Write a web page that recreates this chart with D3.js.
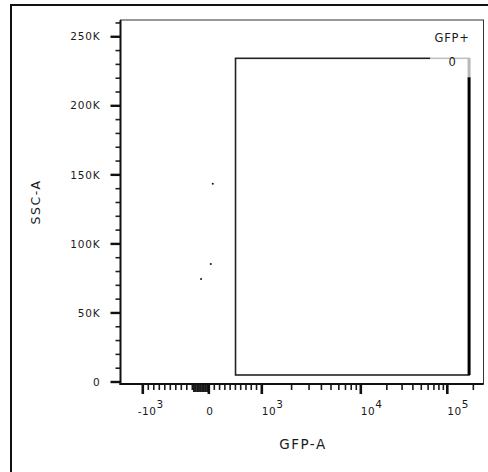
<!DOCTYPE html>
<html>
<head>
<meta charset="utf-8">
<script src="https://cdn.jsdelivr.net/npm/d3@7"></script>
<style>
  html, body { margin: 0; padding: 0; background: #fff; }
  svg { display: block; }
  text { font-family: "DejaVu Sans", sans-serif; fill: #1a1a1a; }
</style>
</head>
<body>
<div id="chart"></div>
<script>
// ---- data ----
const gfpValues = [73, 36, -47];              // GFP-A of the recorded events
const sscValues = [143500, 85500, 74600];     // SSC-A of the recorded events
const gateName = "GFP+";
const gateCount = 0;
const gateGfp = [502, 178600];                // gate GFP-A bounds
const gateSsc = [5070, 234400];               // gate SSC-A bounds

const yMajorTicks = [0, 50000, 100000, 150000, 200000, 250000];
const yTickLabels = ["0", "50K", "100K", "150K", "200K", "250K"];
const xMajorTicks = [-1000, 0, 1000, 10000, 100000];
const xTickLabels = [["-10", "3"], ["0", ""], ["10", "3"], ["10", "4"], ["10", "5"]];

const W = 488, H = 472;
const plot = { left: 120.5, top: 20, right: 483.5, bottom: 384 };

const svg = d3.select("#chart").append("svg").attr("width", W).attr("height", H);

// outer frame
svg.append("rect").attr("x", 11).attr("y", 5).attr("width", 490).attr("height", 480)
  .attr("fill", "none").attr("stroke", "#111").attr("stroke-width", 2);

// ---- scales ----
const y = d3.scaleLinear().domain([-1450, 262144]).range([plot.bottom, plot.top]);

// biexponential display: linear within ±1000, one unit per decade beyond
const biex = v => Math.abs(v) <= 1000 ? v / 1000 : Math.sign(v) * (1 + Math.log10(Math.abs(v) / 1000));
const xWidth = plot.right - plot.left;
const xSegments = [-1.405, -1, -0.1, 0, 0.1, 1, 2, 3, biex(262144)];
const xFractions = [0, 0.0614, 0.1978, 0.2433, 0.2584, 0.3893, 0.6620, 0.9003, 1];
const xu = d3.scaleLinear().domain(xSegments).range(xFractions.map(f => plot.left + f * xWidth));
const x = v => xu(biex(v));

// ---- plot frame ----
svg.append("rect").attr("x", plot.left).attr("y", plot.top)
  .attr("width", xWidth).attr("height", plot.bottom - plot.top)
  .attr("fill", "none").attr("stroke", "#333").attr("stroke-width", 1);

// ---- y axis ----
const yMinor = d3.range(10000, 262144, 10000).filter(v => v % 50000 !== 0);
const gy = svg.append("g");
gy.selectAll("line.minor").data(yMinor).join("line")
  .attr("x1", plot.left - 5).attr("x2", plot.left)
  .attr("y1", d => y(d)).attr("y2", d => y(d))
  .attr("stroke", "#222").attr("stroke-width", 1.6);
gy.selectAll("line.major").data(yMajorTicks).join("line")
  .attr("x1", plot.left - 10).attr("x2", plot.left)
  .attr("y1", d => y(d)).attr("y2", d => y(d))
  .attr("stroke", "#111").attr("stroke-width", 2.4);
gy.selectAll("text").data(yMajorTicks).join("text")
  .attr("x", plot.left - 20).attr("y", d => y(d)).attr("dy", "0.35em")
  .attr("text-anchor", "end").attr("font-size", 10.5).attr("letter-spacing", 0.8)
  .text((d, i) => yTickLabels[i]);
svg.append("line").attr("x1", plot.left).attr("x2", plot.left)
  .attr("y1", plot.top).attr("y2", plot.bottom + 1)
  .attr("stroke", "#111").attr("stroke-width", 2);

// ---- x axis ----
const xMinor = [].concat(
  d3.range(-900, -100, 100),
  d3.range(-100, 0, 10),
  d3.range(100, 1000, 100),
  d3.range(2000, 10000, 1000),
  d3.range(20000, 100000, 10000),
  [200000]
);
const gx = svg.append("g");
gx.selectAll("line.minor").data(xMinor).join("line")
  .attr("x1", d => x(d)).attr("x2", d => x(d))
  .attr("y1", plot.bottom + 1).attr("y2", d => plot.bottom + (Math.abs(d) < 100 ? 8 : 6))
  .attr("stroke", "#1a1a1a").attr("stroke-width", d => Math.abs(d) < 100 ? 2 : 1.6);
gx.selectAll("line.major").data(xMajorTicks).join("line")
  .attr("x1", d => x(d)).attr("x2", d => x(d))
  .attr("y1", plot.bottom + 1).attr("y2", plot.bottom + 10)
  .attr("stroke", "#111").attr("stroke-width", 2.6);
const xl = gx.selectAll("text").data(xMajorTicks).join("text")
  .attr("x", (d, i) => xTickLabels[i][1] ? x(d) - (d < 0 ? 5 : 0) : x(d) + 1)
  .attr("y", 415)
  .attr("text-anchor", (d, i) => xTickLabels[i][1] ? "start" : "middle")
  .attr("font-size", 10.5).attr("letter-spacing", 0.5);
xl.append("tspan").text((d, i) => xTickLabels[i][0]);
xl.append("tspan").attr("dy", -7).attr("font-size", 10.5).text((d, i) => xTickLabels[i][1]);
svg.append("line").attr("x1", plot.left - 1).attr("x2", plot.right)
  .attr("y1", plot.bottom).attr("y2", plot.bottom)
  .attr("stroke", "#111").attr("stroke-width", 2);

// ---- axis titles ----
svg.append("text").attr("x", 303).attr("y", 449).attr("text-anchor", "middle")
  .attr("font-size", 13.5).attr("letter-spacing", 1.5).text("GFP-A");
svg.append("text").attr("transform", "translate(40,202) rotate(-90)")
  .attr("text-anchor", "middle").attr("font-size", 12.5).attr("letter-spacing", 1.5).text("SSC-A");

// ---- events ----
svg.append("g").selectAll("circle").data(gfpValues).join("circle")
  .attr("cx", d => x(d)).attr("cy", (d, i) => y(sscValues[i]))
  .attr("r", 1).attr("fill", "#111");

// ---- gate ----
const gx0 = x(gateGfp[0]), gx1 = x(gateGfp[1]);
const gy0 = y(gateSsc[1]), gy1 = y(gateSsc[0]);
svg.append("rect").attr("x", gx0).attr("y", gy0)
  .attr("width", gx1 - gx0).attr("height", gy1 - gy0)
  .attr("fill", "none").attr("stroke", "#222").attr("stroke-width", 1.6);
svg.append("line").attr("x1", gx1).attr("x2", gx1).attr("y1", gy0).attr("y2", gy1)
  .attr("stroke", "#000").attr("stroke-width", 3);

// gate label with translucent count box
svg.append("rect").attr("x", gx1 - 39).attr("y", gy0 - 7)
  .attr("width", 42).attr("height", 26)
  .attr("fill", "#fff").attr("fill-opacity", 0.72);
svg.append("text").attr("x", gx1 - 17).attr("y", gy0 + 7.5).attr("text-anchor", "middle")
  .attr("font-size", 11.5).text(gateCount);
svg.append("text").attr("x", gx1 - 17).attr("y", gy0 - 16).attr("text-anchor", "middle")
  .attr("font-size", 11.5).attr("letter-spacing", 0.8).text(gateName);
</script>
</body>
</html>
